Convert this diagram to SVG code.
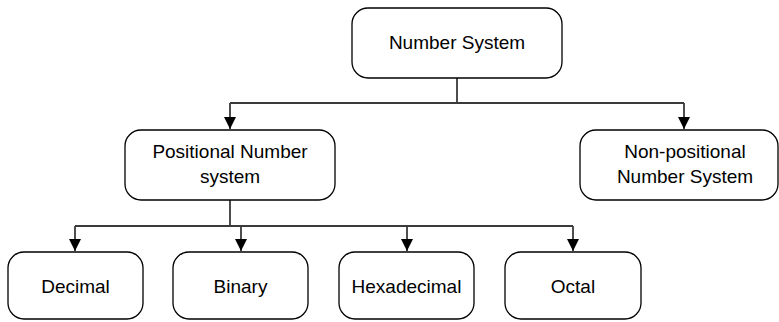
<svg xmlns="http://www.w3.org/2000/svg" width="779" height="322" viewBox="0 0 779 322">
  <style>
    .box { fill: #ffffff; stroke: #000000; stroke-width: 1.3; }
    .lbl { font-family: "Liberation Sans", Arial, sans-serif; font-size: 19px; fill: #000000; text-anchor: middle; }
    .wire { fill: none; stroke: #3a3a3a; stroke-width: 1.8; }
  </style>
  <defs>
    <marker id="arrow" markerUnits="userSpaceOnUse" markerWidth="13" markerHeight="12" refX="12" refY="6" orient="auto">
      <path d="M0,0 L12,6 L0,12 z" fill="#000000"/>
    </marker>
  </defs>
  <rect width="779" height="322" fill="#ffffff"/>

  <g id="connectors">
    <!-- root to second level -->
    <path class="wire" d="M457,78 V103"/>
    <path class="wire" d="M230,103 H684"/>
    <path class="wire" d="M230,103 V129" marker-end="url(#arrow)"/>
    <path class="wire" d="M684,103 V129" marker-end="url(#arrow)"/>
    <!-- positional to leaves -->
    <path class="wire" d="M230,200 V226"/>
    <path class="wire" d="M75,226 H573"/>
    <path class="wire" d="M75,226 V251" marker-end="url(#arrow)"/>
    <path class="wire" d="M241,226 V251" marker-end="url(#arrow)"/>
    <path class="wire" d="M407,226 V251" marker-end="url(#arrow)"/>
    <path class="wire" d="M573,226 V251" marker-end="url(#arrow)"/>
  </g>

  <g id="number-system">
    <rect class="box" x="352" y="8" width="210" height="70" rx="16"/>
    <text class="lbl" x="457" y="49">Number System</text>
  </g>

  <g id="positional">
    <rect class="box" x="125" y="130" width="210" height="70" rx="16"/>
    <text class="lbl" x="230" y="158">Positional Number</text>
    <text class="lbl" x="230" y="183">system</text>
  </g>

  <g id="non-positional">
    <rect class="box" x="580" y="130" width="198" height="70" rx="16"/>
    <text class="lbl" x="685" y="158">Non-positional</text>
    <text class="lbl" x="685" y="183">Number System</text>
  </g>

  <g id="decimal">
    <rect class="box" x="8" y="252" width="135" height="67" rx="16"/>
    <text class="lbl" x="75.5" y="293">Decimal</text>
  </g>

  <g id="binary">
    <rect class="box" x="173" y="252" width="135" height="67" rx="16"/>
    <text class="lbl" x="240.5" y="293">Binary</text>
  </g>

  <g id="hexadecimal">
    <rect class="box" x="339" y="252" width="135" height="67" rx="16"/>
    <text class="lbl" x="406.5" y="293">Hexadecimal</text>
  </g>

  <g id="octal">
    <rect class="box" x="505" y="252" width="136" height="67" rx="16"/>
    <text class="lbl" x="573" y="293">Octal</text>
  </g>
</svg>
